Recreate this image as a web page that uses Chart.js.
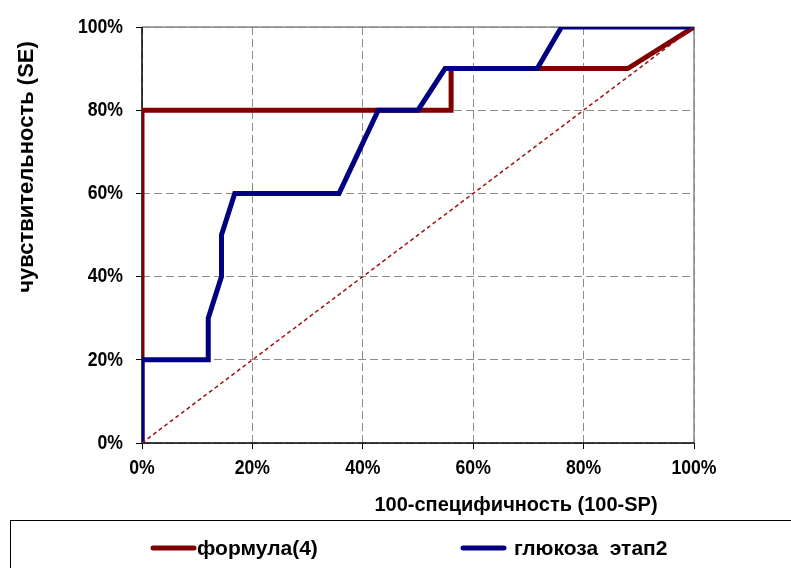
<!DOCTYPE html>
<html>
<head>
<meta charset="utf-8">
<script src="https://cdn.jsdelivr.net/npm/chart.js@4.4.0/dist/chart.umd.min.js"></script>
<style>
  html, body { margin: 0; padding: 0; background: #fff; }
  #wrap { width: 791px; height: 568px; position: relative; }
</style>
</head>
<body>
<div id="wrap"><canvas id="roc" width="791" height="568"></canvas></div>
<script>
// ROC curves: x = 100 - specificity, y = sensitivity (percent)
const formulaX = [0, 0, 56, 56, 88, 100];
const formulaY = [0, 80, 80, 90, 90, 100];
const glucoseX = [0, 0, 12, 12, 14.4, 14.4, 16.8, 35.7, 42.8, 50, 54.9, 71.6, 76, 100];
const glucoseY = [0, 20, 20, 30, 40, 50, 60, 60, 80, 80, 90, 90, 100, 100];
const diagX = [0, 100];
const diagY = [0, 100];
const tickValues = [0, 20, 40, 60, 80, 100];
const tickLabels = ['0%', '20%', '40%', '60%', '80%', '100%'];
const seriesLabels = ['формула(4)', 'глюкоза  этап2'];
const xTitle = '100-специфичность (100-SP)';
const yTitle = 'чувствительность (SE)';

const FONT = '"Liberation Sans", Arial, sans-serif';
const RED = '#800000';
const BLUE = '#000080';

const toPoints = (xs, ys) => xs.map((x, i) => ({ x: x, y: ys[i] }));

// text squeezed horizontally, like the narrow font of the original
function squeezed(ctx, text, x, y, size, sx, align) {
    ctx.save();
    ctx.translate(x, y);
    ctx.scale(sx, 1);
    ctx.font = 'bold ' + size + 'px ' + FONT;
    ctx.textAlign = align;
    ctx.textBaseline = 'middle';
    ctx.fillStyle = '#000';
    ctx.fillText(text, 0, 0);
    ctx.restore();
}

// frame, axes, tick labels, axis titles and legend box
const decor = {
    id: 'decor',
    beforeDatasetsDraw(chart) {
        const { ctx, chartArea: a } = chart;
        ctx.save();
        ctx.strokeStyle = '#888';
        ctx.lineWidth = 1.5;
        ctx.beginPath();
        ctx.moveTo(a.left, a.top);
        ctx.lineTo(a.right, a.top);
        ctx.lineTo(a.right, a.bottom);
        ctx.stroke();
        ctx.strokeStyle = '#000';
        ctx.beginPath();
        ctx.moveTo(a.left, a.top);
        ctx.lineTo(a.left, a.bottom);
        ctx.lineTo(a.right, a.bottom);
        ctx.stroke();
        ctx.restore();
    },
    afterDraw(chart) {
        const { ctx, scales } = chart;
        tickValues.forEach((v, i) => {
            squeezed(ctx, tickLabels[i], 123, scales.y.getPixelForValue(v), 21, 0.84, 'right');
            squeezed(ctx, tickLabels[i], scales.x.getPixelForValue(v), 468, 21, 0.84, 'center');
        });

        squeezed(ctx, xTitle, 516, 505, 20, 1, 'center');

        ctx.save();
        ctx.translate(27, 167);
        ctx.rotate(-Math.PI / 2);
        squeezed(ctx, yTitle, 0, 0, 22, 1, 'center');
        ctx.restore();

        // legend
        ctx.save();
        ctx.strokeStyle = '#000';
        ctx.lineWidth = 1;
        ctx.strokeRect(10.5, 520.5, 800, 60);
        const items = [
            { color: RED, x1: 153, x2: 194, tx: 197 },
            { color: BLUE, x1: 463, x2: 504, tx: 514 }
        ];
        items.forEach((it, i) => {
            ctx.strokeStyle = it.color;
            ctx.lineWidth = 5;
            ctx.lineCap = 'round';
            ctx.beginPath();
            ctx.moveTo(it.x1, 548);
            ctx.lineTo(it.x2, 548);
            ctx.stroke();
            squeezed(ctx, seriesLabels[i], it.tx, 549, 21, 1, 'left');
        });
        ctx.restore();
    }
};

const axisCommon = {
    type: 'linear',
    min: 0,
    max: 100,
    border: { display: false, dash: [8, 4] },
    grid: {
        color: '#8c8c8c',
        lineWidth: 1,
        tickColor: '#000',
        tickLength: 6,
        tickBorderDash: [],
        drawOnChartArea: true
    },
    ticks: {
        display: false,
        stepSize: 20
    }
};

new Chart(document.getElementById('roc'), {
    type: 'scatter',
    data: {
        datasets: [
            {
                label: seriesLabels[0],
                data: toPoints(formulaX, formulaY),
                showLine: true,
                borderColor: RED,
                borderWidth: 5,
                pointRadius: 0,
                borderJoinStyle: 'miter',
                order: 2
            },
            {
                label: seriesLabels[1],
                data: toPoints(glucoseX, glucoseY),
                showLine: true,
                borderColor: BLUE,
                borderWidth: 5,
                pointRadius: 0,
                borderJoinStyle: 'miter',
                order: 1
            },
            {
                label: 'diag',
                data: toPoints(diagX, diagY),
                showLine: true,
                borderColor: '#a01010',
                borderWidth: 1.5,
                borderDash: [4, 3],
                pointRadius: 0,
                order: 0
            }
        ]
    },
    options: {
        responsive: false,
        animation: false,
        devicePixelRatio: 1,
        layout: { padding: { left: 0, top: 27, right: 97, bottom: 0 } },
        plugins: {
            legend: { display: false },
            tooltip: { enabled: false }
        },
        scales: {
            x: Object.assign({}, axisCommon, {
                position: 'bottom',
                afterFit: (s) => { s.height = 125; }
            }),
            y: Object.assign({}, axisCommon, {
                position: 'left',
                afterFit: (s) => { s.width = 142; }
            })
        }
    },
    plugins: [decor]
});
</script>
</body>
</html>
